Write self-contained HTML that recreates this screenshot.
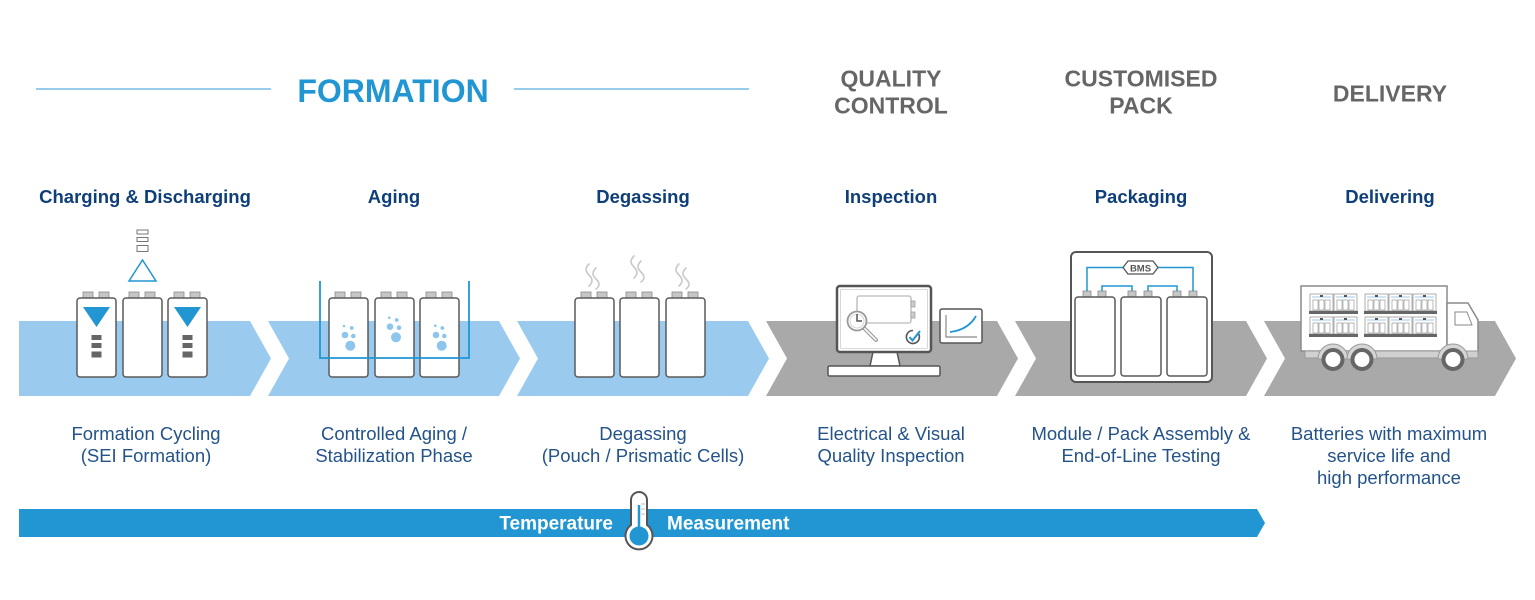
<!DOCTYPE html>
<html><head><meta charset="utf-8">
<style>
html,body{margin:0;padding:0;background:#fff;}
svg{display:block;}
text{font-family:"Liberation Sans",Arial,sans-serif;}
.sub{font-size:18.5px;font-weight:bold;fill:#0f3f78;}
.desc{font-size:18.5px;fill:#24538a;}
.hd{font-size:23px;font-weight:bold;fill:#666;}
</style></head>
<body>
<svg width="1535" height="600" viewBox="0 0 1535 600" xmlns="http://www.w3.org/2000/svg">
<defs>
  <g id="bat">
    <rect x="6" y="-6" width="10" height="6" fill="#c6c6c6" stroke="#8a8a8a" stroke-width="0.8"/>
    <rect x="22" y="-6" width="10" height="6" fill="#c6c6c6" stroke="#8a8a8a" stroke-width="0.8"/>
    <rect x="0" y="0" width="39" height="79" rx="3" fill="#fff" stroke="#5a5a5a" stroke-width="1.5"/>
  </g>
  <g id="pk">
    <rect x="0" y="0" width="23" height="17" fill="#fff" stroke="#9a9a9a" stroke-width="0.8"/>
    <line x1="2" y1="3" x2="21" y2="3" stroke="#9cc8e8" stroke-width="1"/>
    <rect x="10" y="1" width="3" height="2" fill="#555"/>
    <rect x="3" y="6" width="5" height="10" fill="none" stroke="#9a9a9a" stroke-width="0.7"/>
    <rect x="9" y="6" width="5" height="10" fill="none" stroke="#9a9a9a" stroke-width="0.7"/>
    <rect x="15" y="6" width="5" height="10" fill="none" stroke="#9a9a9a" stroke-width="0.7"/>
    <rect x="-1" y="17" width="25" height="3" fill="#666"/>
  </g>
</defs>

<!-- Header -->
<line x1="36" y1="89" x2="271" y2="89" stroke="#5aaee0" stroke-width="1.2"/>
<line x1="514" y1="89" x2="749" y2="89" stroke="#5aaee0" stroke-width="1.2"/>
<text x="393" y="102" text-anchor="middle" style="font-size:32px;font-weight:bold;fill:#2196d3;">FORMATION</text>
<text x="891" y="86.5" text-anchor="middle" class="hd">QUALITY</text>
<text x="891" y="113.5" text-anchor="middle" class="hd">CONTROL</text>
<text x="1141" y="86.5" text-anchor="middle" class="hd">CUSTOMISED</text>
<text x="1141" y="113.5" text-anchor="middle" class="hd">PACK</text>
<text x="1390" y="101.5" text-anchor="middle" class="hd">DELIVERY</text>

<!-- Subheadings -->
<text x="145" y="203" text-anchor="middle" class="sub">Charging &amp; Discharging</text>
<text x="394" y="203" text-anchor="middle" class="sub">Aging</text>
<text x="643" y="203" text-anchor="middle" class="sub">Degassing</text>
<text x="891" y="203" text-anchor="middle" class="sub">Inspection</text>
<text x="1141" y="203" text-anchor="middle" class="sub">Packaging</text>
<text x="1390" y="203" text-anchor="middle" class="sub">Delivering</text>

<!-- Chevrons -->
<polygon points="19,321 250,321 271,358.5 250,396 19,396" fill="#9acbee"/>
<polygon points="268,321 499,321 520,358.5 499,396 268,396 289,358.5" fill="#9acbee"/>
<polygon points="517,321 748,321 769,358.5 748,396 517,396 538,358.5" fill="#9acbee"/>
<polygon points="766,321 997,321 1018,358.5 997,396 766,396 787,358.5" fill="#a9a9a9"/>
<polygon points="1015,321 1246,321 1267,358.5 1246,396 1015,396 1036,358.5" fill="#a9a9a9"/>
<polygon points="1264,321 1495,321 1516,358.5 1495,396 1264,396 1285,358.5" fill="#a9a9a9"/>

<!-- Charging & Discharging icon -->
<rect x="137" y="230" width="11" height="4" fill="#fff" stroke="#777" stroke-width="1"/>
<rect x="137" y="237.5" width="11" height="4" fill="#fff" stroke="#777" stroke-width="1"/>
<rect x="137" y="245.5" width="11" height="6" fill="#fff" stroke="#777" stroke-width="1"/>
<polygon points="129,281 156,281 142.5,260" fill="none" stroke="#2196d3" stroke-width="1.5"/>
<use href="#bat" x="77" y="298"/>
<use href="#bat" x="123" y="298"/>
<use href="#bat" x="168" y="298"/>
<polygon points="83,307 110,307 96.5,327" fill="#2196d3"/>
<rect x="91.5" y="335" width="10" height="5" fill="#666"/>
<rect x="91.5" y="343" width="10" height="5" fill="#666"/>
<rect x="91.5" y="351.5" width="10" height="6" fill="#666"/>
<polygon points="174,307 201,307 187.5,327" fill="#2196d3"/>
<rect x="182.5" y="335" width="10" height="5" fill="#666"/>
<rect x="182.5" y="343" width="10" height="5" fill="#666"/>
<rect x="182.5" y="351.5" width="10" height="6" fill="#666"/>

<!-- Aging icon -->
<use href="#bat" x="329" y="298"/>
<use href="#bat" x="375" y="298"/>
<use href="#bat" x="420" y="298"/>
<g fill="#8ec5ec">
  <circle cx="350.3" cy="345.7" r="5"/><circle cx="345" cy="335" r="3.3"/><circle cx="353.3" cy="336" r="2.3"/><circle cx="351.7" cy="328" r="1.9"/><circle cx="344" cy="326" r="1.3"/>
  <circle cx="396" cy="337.3" r="5"/><circle cx="390" cy="326.7" r="3.3"/><circle cx="399" cy="327.7" r="2.3"/><circle cx="396.7" cy="320" r="1.9"/><circle cx="389.3" cy="317.7" r="1.3"/>
  <circle cx="441.7" cy="345.7" r="5"/><circle cx="436" cy="335" r="3.3"/><circle cx="444.3" cy="336" r="2.3"/><circle cx="442.3" cy="328" r="1.9"/><circle cx="435.3" cy="325.7" r="1.3"/>
</g>
<path d="M320,281 V358 H469 V281" fill="none" stroke="#2196d3" stroke-width="1.8"/>

<!-- Degassing icon -->
<g fill="none" stroke="#c8c8c8" stroke-width="1.6" stroke-linecap="round">
  <path d="M589,264 c-4,4 -4,7 0,11 s4,7 0,11"/>
  <path d="M596,268 c-4,4 -4,7 0,11 s4,7 0,10"/>
  <path d="M634,256 c-4,4 -4,7 0,11 s4,7 0,11"/>
  <path d="M641,261 c-4,4 -4,7 0,11 s4,7 0,10"/>
  <path d="M679,264 c-4,4 -4,7 0,11 s4,7 0,11"/>
  <path d="M686,268 c-4,4 -4,7 0,11 s4,7 0,10"/>
</g>
<use href="#bat" x="575" y="298"/>
<use href="#bat" x="620" y="298"/>
<use href="#bat" x="666" y="298"/>

<!-- Inspection icon -->
<polygon points="873,352 897,352 900,366 870,366" fill="#fff" stroke="#555" stroke-width="1.5"/>
<rect x="828" y="366" width="112" height="10" rx="1.5" fill="#fff" stroke="#555" stroke-width="1.5"/>
<rect x="837" y="286" width="94" height="66" rx="3" fill="#fff" stroke="#555" stroke-width="2.5"/>
<rect x="840.5" y="289.5" width="87" height="59" rx="1" fill="none" stroke="#ccc" stroke-width="0.8"/>
<rect x="857" y="296" width="54" height="27" rx="2" fill="none" stroke="#aaa" stroke-width="1.1"/>
<rect x="911" y="301" width="4" height="6" fill="#ccc" stroke="#999" stroke-width="0.7"/>
<rect x="911" y="312" width="4" height="6" fill="#ccc" stroke="#999" stroke-width="0.7"/>
<line x1="864" y1="328" x2="876" y2="340" stroke="#999" stroke-width="4" stroke-linecap="round"/>
<line x1="864" y1="328" x2="876" y2="340" stroke="#fff" stroke-width="1.6" stroke-linecap="round"/>
<circle cx="857" cy="321" r="9.5" fill="#fff" stroke="#999" stroke-width="1.8"/>
<circle cx="857" cy="321" r="7" fill="none" stroke="#ccc" stroke-width="0.8"/>
<path d="M857,314 V321 H862" fill="none" stroke="#555" stroke-width="1.5"/>
<path d="M918,333 A6.5,6.5 0 1 1 913,330.5" fill="none" stroke="#555" stroke-width="1.6"/>
<path d="M909.5,337 L912.5,340.5 L920,331" fill="none" stroke="#2196d3" stroke-width="2"/>
<rect x="940" y="309" width="42" height="34" rx="2" fill="#fff" stroke="#555" stroke-width="1.5"/>
<polyline points="946,315 946,337 977,337" fill="none" stroke="#888" stroke-width="1.2"/>
<path d="M950,332 Q968,330 976,316" fill="none" stroke="#2196d3" stroke-width="1.8"/>

<!-- Packaging icon -->
<rect x="1071" y="252" width="141" height="130" rx="5" fill="#fff" stroke="#555" stroke-width="2"/>
<g fill="#c6c6c6" stroke="#8a8a8a" stroke-width="0.8">
  <rect x="1083" y="291" width="8" height="6"/><rect x="1098" y="291" width="8" height="6"/>
  <rect x="1128" y="291" width="8" height="6"/><rect x="1144" y="291" width="8" height="6"/>
  <rect x="1173" y="291" width="8" height="6"/><rect x="1189" y="291" width="8" height="6"/>
</g>
<g fill="#fff" stroke="#5a5a5a" stroke-width="1.5">
  <rect x="1075" y="297" width="40" height="79" rx="3"/>
  <rect x="1121" y="297" width="40" height="79" rx="3"/>
  <rect x="1167" y="297" width="40" height="79" rx="3"/>
</g>
<g fill="none" stroke="#2196d3" stroke-width="1.5">
  <path d="M1123,267.5 H1087 V291"/>
  <path d="M1158,267.5 H1193 V291"/>
  <path d="M1102,291 V286 H1132 V291"/>
  <path d="M1148,291 V286 H1177 V291"/>
</g>
<polygon points="1123,267.5 1128,261 1153,261 1158,267.5 1153,274 1128,274" fill="#fff" stroke="#555" stroke-width="1.3"/>
<text x="1140.5" y="271.5" text-anchor="middle" style="font-size:9.5px;font-weight:bold;fill:#555;">BMS</text>

<!-- Truck icon -->
<rect x="1301" y="286" width="146" height="65" fill="#fff" stroke="#8a8a8a" stroke-width="1.5"/>
<path d="M1447,303 H1468 L1478,320 V352 H1447 Z" fill="#fff" stroke="#8a8a8a" stroke-width="1.5"/>
<path d="M1455,312 H1467 L1472,325 H1455 Z" fill="#fff" stroke="#8a8a8a" stroke-width="1"/>
<rect x="1305" y="351" width="173" height="7" fill="#d0d0d0" stroke="#999" stroke-width="1"/>
<g fill="#d5d5d5" stroke="#999" stroke-width="1">
  <path d="M1318,359 A15,15 0 0 1 1348,359 Z"/>
  <path d="M1347,359 A15,15 0 0 1 1377,359 Z"/>
  <path d="M1438,359 A15,15 0 0 1 1468,359 Z"/>
</g>
<g fill="#fff" stroke="#666" stroke-width="4">
  <circle cx="1333" cy="359.5" r="9.5"/>
  <circle cx="1362" cy="359.5" r="9.5"/>
  <circle cx="1453" cy="359.5" r="9.5"/>
</g>
<use href="#pk" x="1310" y="294"/><use href="#pk" x="1334" y="294"/>
<use href="#pk" x="1365" y="294"/><use href="#pk" x="1389" y="294"/><use href="#pk" x="1413" y="294"/>
<use href="#pk" x="1310" y="317"/><use href="#pk" x="1334" y="317"/>
<use href="#pk" x="1365" y="317"/><use href="#pk" x="1389" y="317"/><use href="#pk" x="1413" y="317"/>

<!-- Descriptions -->
<text x="146" y="440" text-anchor="middle" class="desc">Formation Cycling</text>
<text x="146" y="462" text-anchor="middle" class="desc">(SEI Formation)</text>
<text x="394" y="440" text-anchor="middle" class="desc">Controlled Aging /</text>
<text x="394" y="462" text-anchor="middle" class="desc">Stabilization Phase</text>
<text x="643" y="440" text-anchor="middle" class="desc">Degassing</text>
<text x="643" y="462" text-anchor="middle" class="desc">(Pouch / Prismatic Cells)</text>
<text x="891" y="440" text-anchor="middle" class="desc">Electrical &amp; Visual</text>
<text x="891" y="462" text-anchor="middle" class="desc">Quality Inspection</text>
<text x="1141" y="440" text-anchor="middle" class="desc">Module / Pack Assembly &amp;</text>
<text x="1141" y="462" text-anchor="middle" class="desc">End-of-Line Testing</text>
<text x="1389" y="440" text-anchor="middle" class="desc">Batteries with maximum</text>
<text x="1389" y="462" text-anchor="middle" class="desc">service life and</text>
<text x="1389" y="484" text-anchor="middle" class="desc">high performance</text>

<!-- Temperature bar -->
<polygon points="19,509 1257,509 1265,523 1257,537 19,537" fill="#2196d3"/>
<text x="613" y="529.5" text-anchor="end" style="font-size:19px;font-weight:bold;fill:#fff;">Temperature</text>
<text x="667" y="529.5" style="font-size:19px;font-weight:bold;fill:#fff;">Measurement</text>
<path d="M631,525 V500 A8,8 0 0 1 647,500 V525 A13.5,13.5 0 1 1 631,525 Z" fill="#fff" stroke="#555" stroke-width="2"/>
<g stroke="#aaa" stroke-width="0.8">
  <line x1="641" y1="504" x2="645" y2="504"/>
  <line x1="641" y1="509" x2="645" y2="509"/>
  <line x1="641" y1="514" x2="645" y2="514"/>
</g>
<line x1="639" y1="505" x2="639" y2="530" stroke="#2196d3" stroke-width="2.5"/>
<circle cx="639" cy="536" r="9.5" fill="#2196d3"/>
</svg>
</body></html>
